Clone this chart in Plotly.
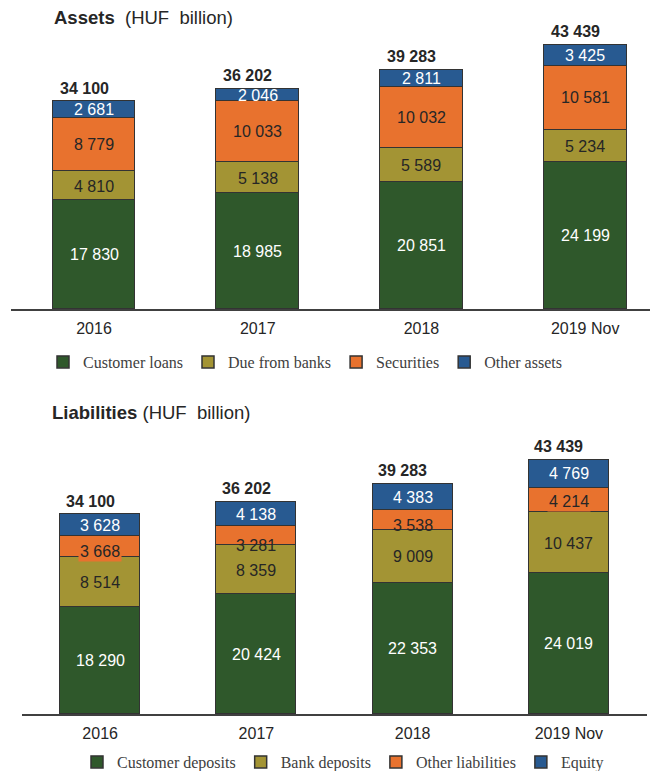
import plotly.graph_objects as go

categories = ["2016", "2017", "2018", "2019 Nov"]

# Assets (HUF billion)
customer_loans = [17830, 18985, 20851, 24199]
due_from_banks = [4810, 5138, 5589, 5234]
securities = [8779, 10033, 10032, 10581]
other_assets = [2681, 2046, 2811, 3425]
assets_total = [34100, 36202, 39283, 43439]

# Liabilities (HUF billion)
customer_deposits = [18290, 20424, 22353, 24019]
bank_deposits = [8514, 8359, 9009, 10437]
other_liabilities = [3668, 3281, 3538, 4214]
equity = [3628, 4138, 4383, 4769]
liab_total = [34100, 36202, 39283, 43439]

GREEN = "#2F582B"
OLIVE = "#A39434"
ORANGE = "#E8722E"
BLUE = "#285A91"
DARK = "#262626"
EDGE = "#333333"


def fmt(v):
    return f"{v:,}".replace(",", " ")


fig = go.Figure()

assets_series = [
    ("Customer loans", customer_loans, GREEN, "white"),
    ("Due from banks", due_from_banks, OLIVE, DARK),
    ("Securities", securities, ORANGE, DARK),
    ("Other assets", other_assets, BLUE, "white"),
]
liab_series = [
    ("Customer deposits", customer_deposits, GREEN, "white"),
    ("Bank deposits", bank_deposits, OLIVE, DARK),
    ("Other liabilities", other_liabilities, ORANGE, DARK),
    ("Equity", equity, BLUE, "white"),
]

annotations = []


def add_panel(series, xa, ya, legend, width, totals, label_shift, label_bg):
    base = [0] * len(categories)
    for si, (name, vals, col, tcol) in enumerate(series):
        fig.add_trace(go.Bar(
            x=categories, y=vals, name=name, marker_color=col,
            marker_line_color=EDGE, marker_line_width=1.5,
            width=width, xaxis=xa, yaxis=ya, legend=legend,
            hoverinfo="skip",
        ))
        for i, v in enumerate(vals):
            shift = label_shift.get((si, i), 0)
            bg = col if (si, i) in label_bg else None
            annotations.append(dict(
                x=i, y=base[i] + v / 2, xref=xa, yref=ya,
                text=fmt(v), showarrow=False, yshift=shift,
                font=dict(family="Liberation Sans, Arial", size=16, color=tcol),
                bgcolor=bg, borderpad=1,
            ))
            base[i] += v
    for i, t in enumerate(totals):
        annotations.append(dict(
            x=i, y=t, xref=xa, yref=ya, text="<b>" + fmt(t) + "</b>",
            showarrow=False, yanchor="bottom", yshift=3, xshift=-10,
            font=dict(family="Liberation Sans, Arial", size=16, color=DARK),
        ))


add_panel(assets_series, "x", "y", "legend", 0.505, assets_total, {}, set())
add_panel(liab_series, "x2", "y2", "legend2", 0.512, liab_total,
          {(2, 0): -5, (2, 1): -9, (2, 2): -5, (2, 3): -1},
          {(2, 0), (2, 3)})

annotations.append(dict(
    x=52 / 652, y=1 - 17 / 771, xref="paper", yref="paper", xanchor="left", yanchor="middle",
    text="<b>Assets</b>  (HUF  billion)", showarrow=False,
    font=dict(family="Liberation Sans, Arial", size=18.5, color=DARK),
))
annotations.append(dict(
    x=50 / 652, y=1 - 412 / 771, xref="paper", yref="paper", xanchor="left", yanchor="middle",
    text="<b>Liabilities</b> (HUF  billion)", showarrow=False,
    font=dict(family="Liberation Sans, Arial", size=18.5, color=DARK),
))

axis_common = dict(
    showline=True, linecolor="#404040", linewidth=1.5, ticks="", showgrid=False,
    tickfont=dict(family="Liberation Sans, Arial", size=16, color=DARK),
    type="category", fixedrange=True, ticklabelstandoff=4,
)
yaxis_common = dict(visible=False, showgrid=False, range=[0, 48000], fixedrange=True)

legend_common = dict(
    orientation="h", xanchor="center", yanchor="middle",
    font=dict(family="Liberation Serif, serif", size=16, color="#404040"),
    bgcolor="rgba(0,0,0,0)", itemclick=False, itemdoubleclick=False,
    traceorder="normal", itemwidth=30,
)

fig.update_layout(
    width=652, height=771,
    margin=dict(l=0, r=0, t=0, b=0, autoexpand=False),
    paper_bgcolor="white", plot_bgcolor="white",
    barmode="stack", bargap=0,
    showlegend=True,
    xaxis=dict(domain=[11 / 652, 650 / 652], range=[-0.507, 3.396], anchor="y", **axis_common),
    yaxis=dict(domain=[1 - 309 / 771, 1 - 17.3 / 771], anchor="x", **yaxis_common),
    xaxis2=dict(domain=[22 / 652, 647 / 652], range=[-0.5, 3.5], anchor="y2", **axis_common),
    yaxis2=dict(domain=[1 - 714 / 771, 1 - 433.3 / 771], anchor="x2", **yaxis_common),
    legend=dict(x=305 / 652, y=1 - 362 / 771, **legend_common),
    legend2=dict(x=343 / 652, y=1 - 762 / 771, **legend_common),
    annotations=annotations,
)

fig.write_html("out.html")
